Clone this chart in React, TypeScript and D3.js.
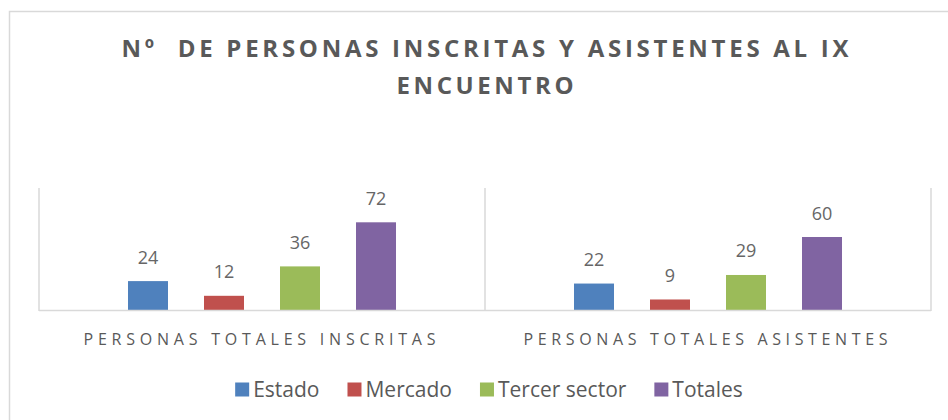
import React, { useEffect, useRef } from "react";
import * as d3 from "d3";

const categories = ["PERSONAS TOTALES INSCRITAS", "PERSONAS TOTALES ASISTENTES"];
const seriesNames = ["Estado", "Mercado", "Tercer sector", "Totales"];
const estado = [24, 22];
const mercado = [12, 9];
const tercerSector = [36, 29];
const totales = [72, 60];
const titleLines = ["Nº  DE PERSONAS INSCRITAS Y ASISTENTES AL IX", "ENCUENTRO"];
const colors = ["#4f81bd", "#c0504d", "#9bbb59", "#8064a2"];

const seriesValues = [estado, mercado, tercerSector, totales];

const W = 948;
const H = 420;
const FONT = "'Open Sans', 'Noto Sans', sans-serif";
const TXT = "#595959";
const GRID = "#d9d9d9";

export default function App() {
  const ref = useRef<SVGSVGElement | null>(null);

  useEffect(() => {
    document.body.style.margin = "0";
    const svg = d3.select(ref.current);
    svg.selectAll("*").remove();

    // chart border
    svg.append("rect")
      .attr("x", 9.5).attr("y", 11.5)
      .attr("width", W + 20).attr("height", H + 20)
      .attr("fill", "#fff").attr("stroke", GRID).attr("stroke-width", 1.5);

    // title
    const titleWidths = [727, 177];
    const titleY = [57, 94];
    titleLines.forEach((t, i) => {
      svg.append("text")
        .attr("x", 485).attr("y", titleY[i])
        .attr("text-anchor", "middle")
        .style("white-space", "pre")
        .attr("font-family", FONT).attr("font-weight", 700)
        .attr("font-size", 24).attr("fill", TXT)
        .attr("textLength", titleWidths[i]).attr("lengthAdjust", "spacing")
        .text(t);
    });

    const x0 = d3.scaleBand<string>().domain(categories).range([39, 931]).padding(0);
    const x1 = d3.scaleBand<string>().domain(seriesNames)
      .range([0, x0.bandwidth()])
      .paddingInner(36 / 76).paddingOuter(1.171);
    const y = d3.scaleLinear().domain([0, 100]).range([310.5, 188]);

    // vertical grid / category separators
    const sepXs = [...categories.map((c) => x0(c)!), 931];
    sepXs.forEach((sx) => {
      svg.append("line")
        .attr("x1", sx).attr("x2", sx)
        .attr("y1", y(100)).attr("y2", y(0) + 0.5)
        .attr("stroke", GRID).attr("stroke-width", 1.5);
    });

    // bars
    const g = svg.append("g");
    categories.forEach((c, ci) => {
      seriesNames.forEach((s, si) => {
        const v = seriesValues[si][ci];
        const bx = x0(c)! + x1(s)!;
        g.append("rect")
          .attr("x", bx).attr("y", y(v))
          .attr("width", x1.bandwidth()).attr("height", y(0) - y(v))
          .attr("fill", colors[si]);
        g.append("text")
          .attr("x", bx + x1.bandwidth() / 2).attr("y", y(v) - 17.5)
          .attr("text-anchor", "middle")
          .attr("font-family", FONT).attr("font-size", 18)
          .attr("fill", "#666666")
          .text(String(v));
      });
    });

    // axis line
    svg.append("line")
      .attr("x1", 39).attr("x2", 931)
      .attr("y1", y(0)).attr("y2", y(0))
      .attr("stroke", GRID).attr("stroke-width", 1.5);

    // category labels
    const catWidths = [352, 364];
    categories.forEach((c, i) => {
      svg.append("text")
        .attr("x", x0(c)! + x0.bandwidth() / 2 - 2.5).attr("y", 345)
        .attr("text-anchor", "middle")
        .attr("font-family", FONT).attr("font-size", 16)
        .attr("fill", TXT)
        .attr("textLength", catWidths[i]).attr("lengthAdjust", "spacing")
        .text(c);
    });

    // legend
    const leg = svg.append("g");
    let lx = 0;
    seriesNames.forEach((s, i) => {
      const ig = leg.append("g").attr("transform", `translate(${lx},0)`);
      ig.append("rect").attr("x", 0).attr("y", -14).attr("width", 14).attr("height", 14).attr("fill", colors[i]);
      const t = ig.append("text")
        .attr("x", 18).attr("y", 0)
        .attr("font-family", FONT).attr("font-size", 21)
        .attr("fill", TXT).text(s);
      const tw = (t.node() as SVGTextElement).getComputedTextLength();
      lx += 18 + tw + 28;
    });
    const totalW = lx - 28;
    const startX = 489 - totalW / 2;
    leg.attr("transform", `translate(${startX},396.5)`);
  }, []);

  return <svg ref={ref} width={W} height={H} style={{ display: "block" }} />;
}
